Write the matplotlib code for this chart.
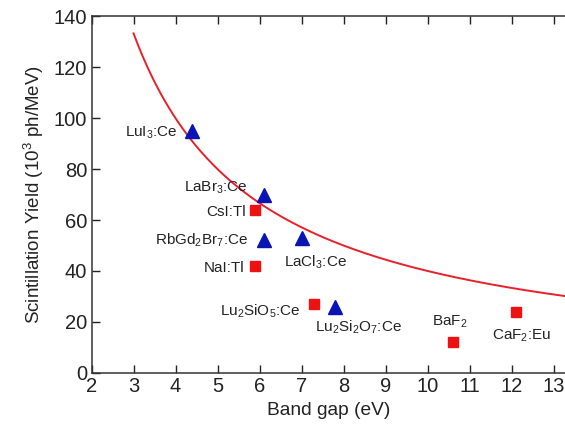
import numpy as np
import matplotlib
matplotlib.use("Agg")
from matplotlib import pyplot as plt

plt.rcParams["font.family"] = ["Liberation Sans", "DejaVu Sans"]
plt.rcParams["mathtext.fontset"] = "custom"
plt.rcParams["mathtext.rm"] = "Liberation Sans"
plt.rcParams["mathtext.it"] = "Liberation Sans"

# theoretical limit Y = 10^6 / (beta * Eg), beta = 2.5
BETA = 2.5
eg_curve = np.linspace(3.0, 13.4, 200)
yield_curve = 1000.0 / (BETA * eg_curve)

# measured scintillators
tri_names = ["LuI$_3$:Ce", "LaBr$_3$:Ce", "RbGd$_2$Br$_7$:Ce", "LaCl$_3$:Ce", "Lu$_2$Si$_2$O$_7$:Ce"]
tri_gap = [4.4, 6.1, 6.1, 7.0, 7.8]
tri_yield = [95, 70, 52, 53, 26]

sq_names = ["CsI:Tl", "NaI:Tl", "Lu$_2$SiO$_5$:Ce", "BaF$_2$", "CaF$_2$:Eu"]
sq_gap = [5.9, 5.9, 7.3, 10.6, 12.1]
sq_yield = [64, 42, 27, 12, 24]

# label anchors (x, y, ha)
labels = {
    "LuI$_3$:Ce": (4.06, 94.4, "right"),
    "LaBr$_3$:Ce": (5.73, 72.7, "right"),
    "CsI:Tl": (5.68, 63.3, "right"),
    "RbGd$_2$Br$_7$:Ce": (5.73, 52.2, "right"),
    "NaI:Tl": (5.63, 41.2, "right"),
    "LaCl$_3$:Ce": (6.58, 43.6, "left"),
    "Lu$_2$SiO$_5$:Ce": (6.96, 24.3, "right"),
    "Lu$_2$Si$_2$O$_7$:Ce": (7.32, 18.0, "left"),
    "BaF$_2$": (10.11, 20.0, "left"),
    "CaF$_2$:Eu": (11.53, 14.5, "left"),
}

fig = plt.figure(figsize=(5.65, 4.32), dpi=100)
ax = fig.add_axes([0.162, 0.137, 0.838, 0.825])

ax.plot(eg_curve, yield_curve, color="#e8202a", lw=1.4, zorder=2)
ax.plot(tri_gap, tri_yield, ls="none", marker="^", ms=10, color="#0a14b4", zorder=3)
ax.plot(sq_gap, sq_yield, ls="none", marker="s", ms=7.5, color="#ee1111", zorder=3)

for name, (x, y, ha) in labels.items():
    ax.text(x, y, name, ha=ha, va="center", fontsize=11, color="#222222")

ax.set_xlim(2, 13.27)
ax.set_ylim(0, 140)
ax.set_xticks(range(2, 14))
ax.set_yticks(range(0, 141, 20))
ax.tick_params(direction="in", length=6, width=1, labelsize=14.5, colors="#222222",
               top=True, right=False, pad=3)
ax.spines["right"].set_visible(False)
for s in ["left", "bottom", "top"]:
    ax.spines[s].set_linewidth(1.1)
    ax.spines[s].set_color("#333333")

ax.set_xlabel("Band gap (eV)", fontsize=13.8, color="#222222", labelpad=4)
ax.set_ylabel("Scintillation Yield (10$^3$ ph/MeV)", fontsize=13.5, color="#222222", labelpad=6)

fig.savefig("out.png", dpi=100)
